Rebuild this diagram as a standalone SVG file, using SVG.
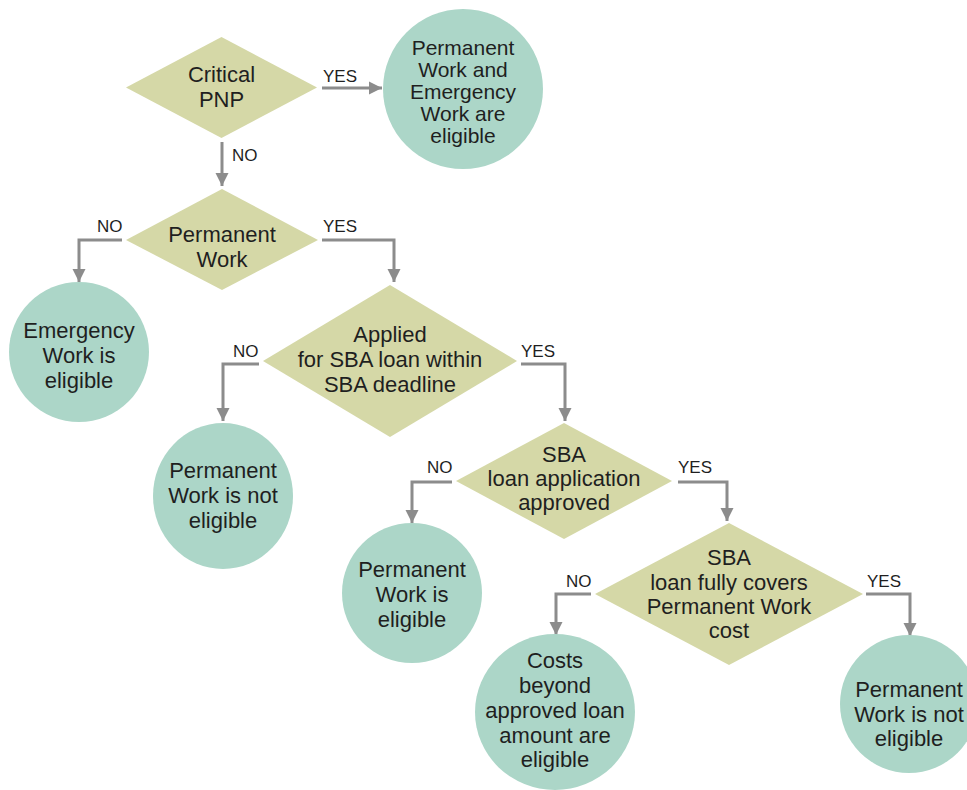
<svg xmlns="http://www.w3.org/2000/svg" width="967" height="790" viewBox="0 0 967 790">
<style>
.dec{fill:#d5d8a7;}
.end{fill:#acd6c8;}
.t{font-family:"Liberation Sans",Arial,sans-serif;font-size:22px;fill:#1f1f1f;text-anchor:middle;}
.t2{font-family:"Liberation Sans",Arial,sans-serif;font-size:21px;fill:#1f1f1f;text-anchor:middle;}
.lbl{font-family:"Liberation Sans",Arial,sans-serif;font-size:17px;fill:#1f1f1f;}
.c{fill:none;stroke:#8c8c8c;stroke-width:3;}
</style>
<defs>
<marker id="ah" markerUnits="userSpaceOnUse" markerWidth="14" markerHeight="14" viewBox="0 0 14 14" refX="13" refY="7" orient="auto">
<path d="M0,0.5 L13,7 L0,13.5 Z" fill="#8c8c8c"/>
</marker>
</defs>
<rect width="967" height="790" fill="#ffffff"/>

<g id="connectors">
<path class="c" d="M322,88 H382" marker-end="url(#ah)"/>
<path class="c" d="M222,142 V186" marker-end="url(#ah)"/>
<path class="c" d="M122,240 H79 V282" marker-end="url(#ah)"/>
<path class="c" d="M322,240 H394 V282" marker-end="url(#ah)"/>
<path class="c" d="M259,364 H223 V421" marker-end="url(#ah)"/>
<path class="c" d="M521,364 H565 V421" marker-end="url(#ah)"/>
<path class="c" d="M452,482 H412 V523" marker-end="url(#ah)"/>
<path class="c" d="M678,482 H727 V521" marker-end="url(#ah)"/>
<path class="c" d="M591,594 H556 V635" marker-end="url(#ah)"/>
<path class="c" d="M866,594 H910 V636" marker-end="url(#ah)"/>
<text class="lbl" x="323" y="82">YES</text>
<text class="lbl" x="232" y="161">NO</text>
<text class="lbl" x="97" y="232">NO</text>
<text class="lbl" x="323" y="232">YES</text>
<text class="lbl" x="233" y="357">NO</text>
<text class="lbl" x="521" y="357">YES</text>
<text class="lbl" x="427" y="473">NO</text>
<text class="lbl" x="678" y="473">YES</text>
<text class="lbl" x="566" y="587">NO</text>
<text class="lbl" x="867" y="587">YES</text>
</g>

<g id="d-critical">
<polygon class="dec" points="221.5,37 317,87.5 221.5,138 126,87.5"/>
<text class="t" x="221.5" y="82">Critical</text>
<text class="t" x="221.5" y="107">PNP</text>
</g>

<g id="e-both">
<circle class="end" cx="463" cy="89" r="80"/>
<text class="t2" x="463" y="55">Permanent</text>
<text class="t2" x="463" y="77">Work and</text>
<text class="t2" x="463" y="99">Emergency</text>
<text class="t2" x="463" y="121">Work are</text>
<text class="t2" x="463" y="143">eligible</text>
</g>

<g id="d-permanent">
<polygon class="dec" points="222,189 318,240 222,290 126,240"/>
<text class="t" x="222" y="242">Permanent</text>
<text class="t" x="222" y="267">Work</text>
</g>

<g id="e-emergency">
<circle class="end" cx="79" cy="352" r="70"/>
<text class="t" x="79" y="338">Emergency</text>
<text class="t" x="79" y="363">Work is</text>
<text class="t" x="79" y="388">eligible</text>
</g>

<g id="d-applied">
<polygon class="dec" points="390,285 517,361 390,437 263,361"/>
<text class="t" x="390" y="342">Applied</text>
<text class="t" x="390" y="367">for SBA loan within</text>
<text class="t" x="390" y="392">SBA deadline</text>
</g>

<g id="e-not1">
<ellipse class="end" cx="223" cy="496" rx="70" ry="73"/>
<text class="t" x="223" y="478">Permanent</text>
<text class="t" x="223" y="503">Work is not</text>
<text class="t" x="223" y="528">eligible</text>
</g>

<g id="d-approved">
<polygon class="dec" points="564,423 672,481 564,539 456,481"/>
<text class="t" x="564" y="462">SBA</text>
<text class="t" x="564" y="486">loan application</text>
<text class="t" x="564" y="510">approved</text>
</g>

<g id="e-eligible">
<circle class="end" cx="412" cy="593" r="70"/>
<text class="t" x="412" y="577">Permanent</text>
<text class="t" x="412" y="602">Work is</text>
<text class="t" x="412" y="627">eligible</text>
</g>

<g id="d-covers">
<polygon class="dec" points="729,523 863,594 729,665 595,594"/>
<text class="t" x="729" y="565">SBA</text>
<text class="t" x="729" y="590">loan fully covers</text>
<text class="t" x="729" y="614">Permanent Work</text>
<text class="t" x="729" y="638">cost</text>
</g>

<g id="e-costs">
<ellipse class="end" cx="555" cy="712" rx="80" ry="78"/>
<text class="t" x="555" y="668">Costs</text>
<text class="t" x="555" y="693">beyond</text>
<text class="t" x="555" y="718">approved loan</text>
<text class="t" x="555" y="743">amount are</text>
<text class="t" x="555" y="767">eligible</text>
</g>

<g id="e-not2">
<circle class="end" cx="909" cy="704" r="69"/>
<text class="t" x="909" y="697">Permanent</text>
<text class="t" x="909" y="722">Work is not</text>
<text class="t" x="909" y="746">eligible</text>
</g>
</svg>
